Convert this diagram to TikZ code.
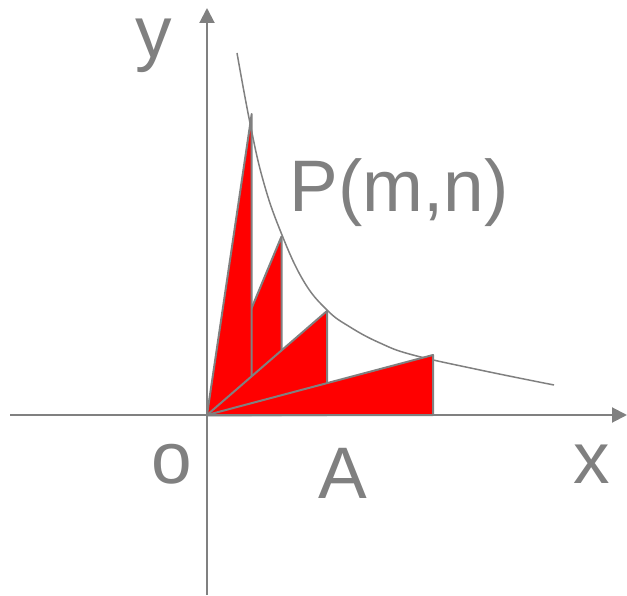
\documentclass[tikz,border=0pt]{standalone}
\usepackage{fontspec}
\setmainfont{Liberation Sans}
\usetikzlibrary{arrows.meta}
\definecolor{axisgray}{RGB}{128,128,128}
\begin{document}
\begin{tikzpicture}[x=1pt,y=-1pt,line width=2pt,color=axisgray,
	lbl/.style={inner sep=0pt,anchor=base,font=\fontsize{73}{73}\selectfont},
	tri/.style={fill=red,draw=axisgray,line join=round}]
	\useasboundingbox (0,0) rectangle (627,596);
	% Define the coordinates
	\coordinate (O) at (207,415);
	\coordinate (Xl) at (10,415);
	\coordinate (X) at (627,415);
	\coordinate (Yb) at (207,595);
	\coordinate (Y) at (207,8);
	\coordinate (P1) at (251.7,114);
	\coordinate (P2) at (281.5,236.5);
	\coordinate (P3) at (327,311);
	\coordinate (P4) at (433,355);
	\foreach \i in {1,...,4}
		\coordinate (F\i) at (P\i |- O);
	% Draw the axes
	\draw[-{Triangle[length=15pt,width=15pt]}] (Xl) -- (X);
	\draw[-{Triangle[length=15pt,width=15pt]}] (Yb) -- (Y);
	% Plot the curve
	\draw[line width=1.5pt] plot[smooth,tension=0.7] coordinates
		{(237,53) (250,123) (263,180) (280,230) (303,280) (327,310)
		 (350,327) (380,343) (413,355) (480,370) (554,385)};
	% Fill the triangles
	\foreach \i in {2,1,3,4}
		\draw[tri] (O) -- (P\i) -- (F\i) -- cycle;
	% Add labels
	\node[lbl] (ylbl) at (154,58) {y};
	\node[lbl] (xlbl) at (592,483) {x};
	\node[lbl] (olbl) at (172,483) {o};
	\node[lbl] (albl) at (343,498) {A};
	\node[lbl] (plbl) at (399,212) {P(m,n)};
\end{tikzpicture}
\end{document}
